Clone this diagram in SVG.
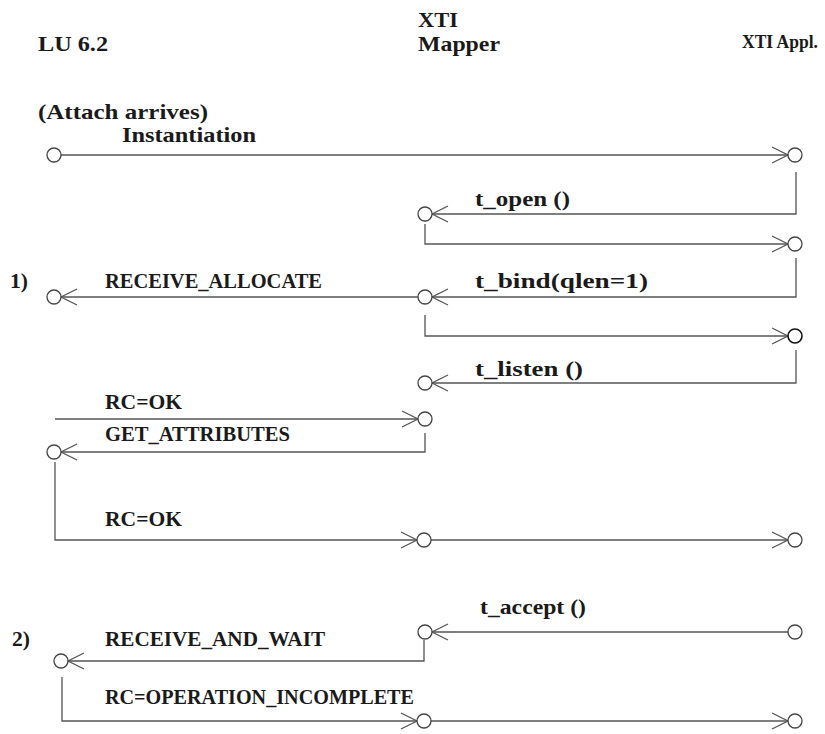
<svg xmlns="http://www.w3.org/2000/svg" width="825" height="734" viewBox="0 0 825 734">
<style>
.t{font-family:"Liberation Serif","DejaVu Serif",serif;font-weight:bold;font-size:22px;fill:#1a1a1a}
.c{fill:#fff;stroke:#444;stroke-width:1.3}
.l{fill:none;stroke:#555;stroke-width:1.3}
</style>
<defs>
<marker id="v" markerUnits="userSpaceOnUse" markerWidth="20" markerHeight="20" viewBox="-18 -10 20 20" refX="0" refY="0" orient="auto">
<path d="M-16,-8 L0,0 L-16,8" fill="none" stroke="#555" stroke-width="1.3"/>
</marker>
</defs>
<rect width="825" height="734" fill="#fff"/>
<g id="headers">
<text class="t" x="38" y="51" textLength="70" lengthAdjust="spacingAndGlyphs">LU 6.2</text>
<text class="t" x="418" y="27" textLength="40" lengthAdjust="spacingAndGlyphs">XTI</text>
<text class="t" x="418" y="51" textLength="82" lengthAdjust="spacingAndGlyphs">Mapper</text>
<text class="t" x="742" y="48" style="font-size:19px" textLength="76" lengthAdjust="spacingAndGlyphs">XTI Appl.</text>
</g>
<g id="connectors">
<line class="l" x1="61" y1="155" x2="788" y2="155" marker-end="url(#v)"/>
<polyline class="l" points="796,172 796,214 432,214" marker-end="url(#v)"/>
<polyline class="l" points="425,224 425,244 788,244" marker-end="url(#v)"/>
<polyline class="l" points="796,258 796,297 432,297" marker-end="url(#v)"/>
<line class="l" x1="418" y1="297" x2="61" y2="297" marker-end="url(#v)"/>
<polyline class="l" points="425,315 425,336 788,336" marker-end="url(#v)"/>
<polyline class="l" points="796,350 796,383 432,383" marker-end="url(#v)"/>
<line class="l" x1="55" y1="419" x2="418" y2="419" marker-end="url(#v)"/>
<polyline class="l" points="425,433 425,452 61,452" marker-end="url(#v)"/>
<polyline class="l" points="55,462 55,540 417,540" marker-end="url(#v)"/>
<line class="l" x1="431" y1="540" x2="788" y2="540" marker-end="url(#v)"/>
<line class="l" x1="788" y1="632" x2="432" y2="632" marker-end="url(#v)"/>
<polyline class="l" points="424,640 424,661 68,661" marker-end="url(#v)"/>
<polyline class="l" points="62,677 62,721 417,721" marker-end="url(#v)"/>
<line class="l" x1="431" y1="721" x2="788" y2="721" marker-end="url(#v)"/>
</g>
<g id="circles">
<g id="n1"><circle class="c" cx="54" cy="155" r="7"/></g>
<g id="n2"><circle class="c" cx="795" cy="155" r="7"/></g>
<g id="n3"><circle class="c" cx="425" cy="214" r="7"/></g>
<g id="n4"><circle class="c" cx="795" cy="244" r="7"/></g>
<g id="n5"><circle class="c" cx="425" cy="297" r="7"/></g>
<g id="n6"><circle class="c" cx="54" cy="297" r="7"/></g>
<g id="n7"><circle class="c" cx="795" cy="336" r="7" style="stroke:#111;stroke-width:1.6"/></g>
<g id="n8"><circle class="c" cx="425" cy="383" r="7"/></g>
<g id="n9"><circle class="c" cx="425" cy="419" r="7"/></g>
<g id="n10"><circle class="c" cx="54" cy="452" r="7"/></g>
<g id="n11"><circle class="c" cx="424" cy="540" r="7"/></g>
<g id="n12"><circle class="c" cx="795" cy="540" r="7"/></g>
<g id="n13"><circle class="c" cx="795" cy="632" r="7"/></g>
<g id="n14"><circle class="c" cx="425" cy="632" r="7"/></g>
<g id="n15"><circle class="c" cx="61" cy="661" r="7"/></g>
<g id="n16"><circle class="c" cx="424" cy="721" r="7"/></g>
<g id="n17"><circle class="c" cx="795" cy="721" r="7"/></g>
</g>
<g id="labels">
<text class="t" x="38" y="119" textLength="170" lengthAdjust="spacingAndGlyphs">(Attach arrives)</text>
<text class="t" x="122" y="142" textLength="134" lengthAdjust="spacingAndGlyphs">Instantiation</text>
<text class="t" x="475" y="206" textLength="95" lengthAdjust="spacingAndGlyphs">t_open ()</text>
<text class="t" x="475" y="288" textLength="173" lengthAdjust="spacingAndGlyphs">t_bind(qlen=1)</text>
<text class="t" x="10" y="288" textLength="18" lengthAdjust="spacingAndGlyphs">1)</text>
<text class="t" x="105" y="288" textLength="217" lengthAdjust="spacingAndGlyphs">RECEIVE_ALLOCATE</text>
<text class="t" x="475" y="376" textLength="108" lengthAdjust="spacingAndGlyphs">t_listen ()</text>
<text class="t" x="105" y="409" textLength="77" lengthAdjust="spacingAndGlyphs">RC=OK</text>
<text class="t" x="105" y="441" textLength="185" lengthAdjust="spacingAndGlyphs">GET_ATTRIBUTES</text>
<text class="t" x="105" y="526" textLength="77" lengthAdjust="spacingAndGlyphs">RC=OK</text>
<text class="t" x="480" y="614" textLength="106" lengthAdjust="spacingAndGlyphs">t_accept ()</text>
<text class="t" x="12" y="646" textLength="18" lengthAdjust="spacingAndGlyphs">2)</text>
<text class="t" x="105" y="646" textLength="220" lengthAdjust="spacingAndGlyphs">RECEIVE_AND_WAIT</text>
<text class="t" x="105" y="704" textLength="309" lengthAdjust="spacingAndGlyphs">RC=OPERATION_INCOMPLETE</text>
</g>
</svg>
